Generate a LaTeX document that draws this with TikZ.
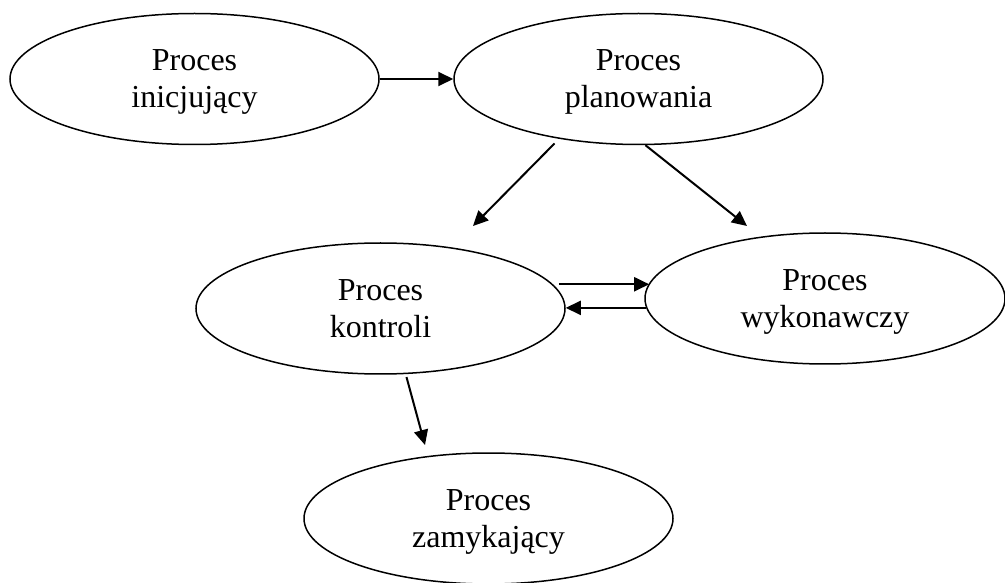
\documentclass[tikz,border=0pt]{standalone}
\usepackage{fontspec}
\setmainfont{Liberation Serif}
\usetikzlibrary{shapes.geometric,arrows.meta}
\begin{document}
\begin{tikzpicture}[x=1pt,y=1pt,
  proc/.style={ellipse,draw,line width=1.5pt,minimum width=369pt,minimum height=131pt,
    inner sep=0pt,align=center,text depth=0pt,font=\fontsize{32}{37}\selectfont},
  conn/.style={line width=2pt,-{Triangle[length=15pt,width=14pt]}}]
\useasboundingbox (0,0) rectangle (1005,582);
\node[proc] (e1) at (194.5,503) {Proces\\inicjujący};
\node[proc] (e2) at (638.5,503) {Proces\\planowania};
\node[proc] (e3) at (380.5,273.5) {Proces\\kontroli};
\node[proc,minimum width=360pt] (e4) at (825,283.5) {Proces\\wykonawczy};
\node[proc] (e5) at (488.5,63.5) {Proces\\zamykający};
\coordinate (t23) at (473,356);
\coordinate (t24) at (747,356);
\coordinate (t35) at (425,137);
\draw[conn] (e1.east) -- (e2.west);
\draw[conn,shorten <=6.5pt] (e2.217) -- (t23);
\draw[conn] (e2.276) -- (t24);
\draw[conn,shorten <=6pt] (e3.8) -- (e3.8 -| e4.175);
\draw[conn] (e4.183) -- (e4.183 -| e3.east);
\draw[conn,shorten <=3pt] (e3.291) -- (t35);
\end{tikzpicture}
\end{document}
